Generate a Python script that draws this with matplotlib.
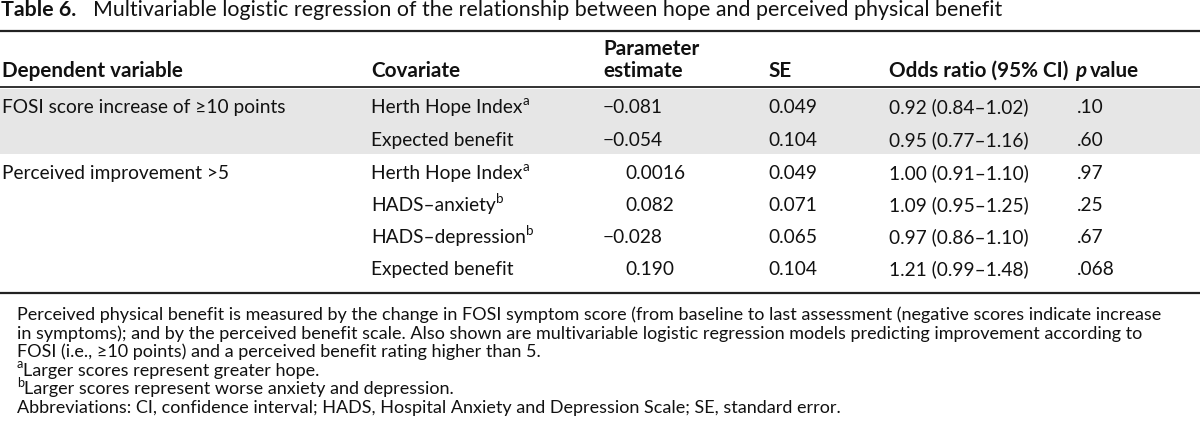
import matplotlib
matplotlib.use("Agg")
import matplotlib.pyplot as plt

plt.rcParams["font.family"] = ["Lato", "DejaVu Sans"]

title_label = "Table 6."
title_text = (
    "Multivariable logistic regression of the relationship "
    "between hope and perceived physical benefit"
)

headers = ["Dependent variable", "Covariate", "estimate", "SE",
           "Odds ratio (95% CI)", "value"]

dependent = ["FOSI score increase of \u226510 points", "",
             "Perceived improvement >5", "", "", ""]
covariates = ["Herth Hope Index", "Expected benefit", "Herth Hope Index",
              "HADS\u2013anxiety", "HADS\u2013depression", "Expected benefit"]
covariate_notes = ["a", "", "a", "b", "b", ""]
estimates = ["\u22120.081", "\u22120.054", "0.0016", "0.082",
             "\u22120.028", "0.190"]
std_errors = ["0.049", "0.104", "0.049", "0.071", "0.065", "0.104"]
odds_ratios = ["0.92 (0.84\u20131.02)", "0.95 (0.77\u20131.16)",
               "1.00 (0.91\u20131.10)", "1.09 (0.95\u20131.25)",
               "0.97 (0.86\u20131.10)", "1.21 (0.99\u20131.48)"]
p_values = [".10", ".60", ".97", ".25", ".67", ".068"]
shaded = [True, True, False, False, False, False]

footnotes = [
    ("", "Perceived physical benefit is measured by the change in FOSI symptom "
         "score (from baseline to last assessment (negative scores indicate increase"),
    ("", "in symptoms); and by the perceived benefit scale. Also shown are "
         "multivariable logistic regression models predicting improvement according to"),
    ("", "FOSI (i.e., \u226510 points) and a perceived benefit rating higher than 5."),
    ("a", "Larger scores represent greater hope."),
    ("b", "Larger scores represent worse anxiety and depression."),
    ("", "Abbreviations: CI, confidence interval; HADS, Hospital Anxiety and "
         "Depression Scale; SE, standard error."),
]

W, H = 1200, 431
TEXT = "#111111"

fig = plt.figure(figsize=(W / 100, H / 100), dpi=100)
ax = fig.add_axes([0, 0, 1, 1])
ax.set_xlim(0, W)
ax.set_ylim(H, 0)
ax.axis("off")
renderer = fig.canvas.get_renderer()


def text_width(artist):
    return artist.get_window_extent(renderer).width


def fit_size(text, width_px, **kw):
    probe = ax.text(0, 0, text, fontsize=10, **kw)
    w = text_width(probe)
    probe.remove()
    return 10 * width_px / w


body = fit_size("Herth Hope Index", 152)
head = fit_size("Dependent variable", 181, fontweight="bold")
title = fit_size(title_text, 905)
note = fit_size(footnotes[0][1], 1143)


def put(x, y, s, size, **kw):
    return ax.text(x, y, s, fontsize=size, va="baseline", ha="left",
                   color=TEXT, **kw)


def put_super(x, y, s, size):
    return put(x, y - size * 0.6, s, size * 0.7)


# title
put(1, 16, title_label, title, fontweight="bold")
put(93, 16, title_text, title)

# rules and shading
ax.plot([0, W], [32, 32], color="#222222", lw=1.6, solid_capstyle="butt")
ax.plot([0, W], [88, 88], color="#222222", lw=1.3, solid_capstyle="butt")
ax.plot([0, W], [294, 294], color="#222222", lw=1.6, solid_capstyle="butt")

row_base = [113, 146, 179, 211, 243, 275]
for i, flag in enumerate(shaded):
    if flag:
        top = 90 if i == 0 else row_base[i - 1] + 9
        ax.axhspan(top, row_base[i] + 9, color="#e6e6e6", lw=0, zorder=0)

# header
col_x = [2, 371, 603, 768, 889, 1075]
header_base = 77
put(col_x[2], 55, "Parameter", head, fontweight="bold")
for x, h in zip(col_x, headers):
    if h == "value":
        p = put(x, header_base, "p", head, fontweight="bold", style="italic")
        put(x + text_width(p) + 4, header_base, h, head, fontweight="bold")
    else:
        put(x, header_base, h, head, fontweight="bold")

# body rows
for i, y in enumerate(row_base):
    if dependent[i]:
        put(col_x[0], y, dependent[i], body)
    c = put(col_x[1], y, covariates[i], body)
    if covariate_notes[i]:
        put_super(col_x[1] + text_width(c), y, covariate_notes[i], body)
    est = estimates[i]
    put(col_x[2] if est.startswith("\u2212") else col_x[2] + 22, y, est, body)
    put(col_x[3], y, std_errors[i], body)
    put(col_x[4], y, odds_ratios[i], body)
    put(col_x[5] + 2, y, p_values[i], body)

# footnotes
note_x = 17
for j, (mark, line) in enumerate(footnotes):
    y = 320 + j * 18.6
    x = note_x
    if mark:
        m = put_super(x, y, mark, note)
        x += text_width(m)
    put(x, y, line, note)

fig.savefig("out.png", dpi=100)
